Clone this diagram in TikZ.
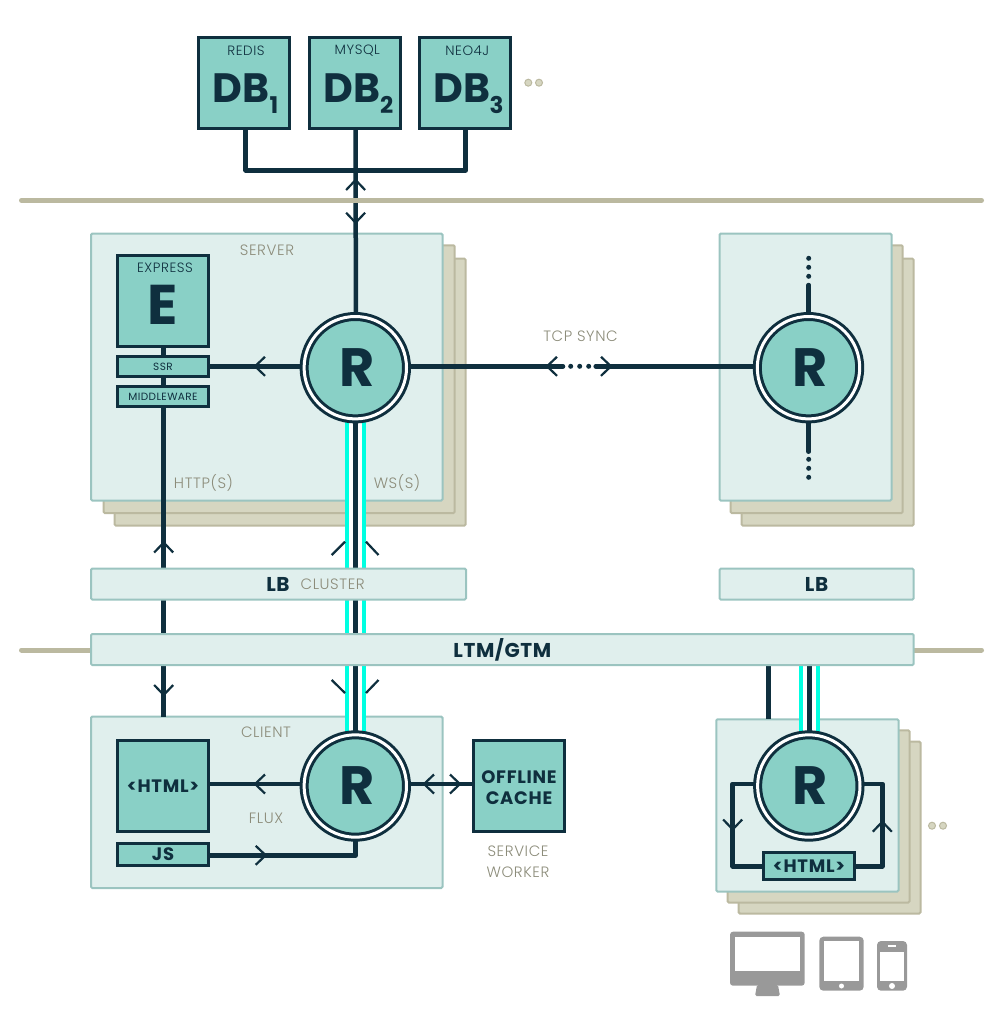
\documentclass[tikz,border=0pt]{standalone}
\usepackage{fontspec}
\setmainfont{Poppins}
\newfontfamily\lightf[LetterSpace=4]{Poppins Light}
\newfontfamily\spacedf[LetterSpace=4]{Poppins}
\usetikzlibrary{backgrounds,calc}
\definecolor{dk}{HTML}{0F2F3E}
\definecolor{teal1}{HTML}{89D0C6}
\definecolor{lite}{HTML}{E0EFED}
\definecolor{liteb}{HTML}{9BC4C0}
\definecolor{tan1}{HTML}{D6D6C1}
\definecolor{tanb}{HTML}{BBB9A0}
\definecolor{cy}{HTML}{00FFE1}
\definecolor{anno}{HTML}{8C8C7A}
\definecolor{dev}{HTML}{999999}
\pgfdeclarelayer{bg}
\pgfdeclarelayer{conn}
\pgfsetlayers{bg,conn,main}
\tikzset{
  tbox/.style={draw=dk,fill=teal1,line width=3pt,inner sep=0pt,outer sep=0pt,text=dk,align=center},
  panel/.style={draw=liteb,fill=lite,line width=2pt,rounded corners=1.2pt,inner sep=0pt,outer sep=0pt},
  backp/.style={draw=tanb,fill=tan1,line width=2pt,rounded corners=1.2pt,inner sep=0pt,outer sep=0pt},
  rnode/.style={circle,draw=dk,fill=teal1,line width=3pt,double=white,double distance=3pt,
     minimum size=102.4pt,inner sep=0pt,outer sep=4.5pt,text=dk,font=\fontsize{54}{54}\selectfont\bfseries},
  wire/.style={draw=dk,line width=4.5pt,line join=round},
  chev/.style={draw=dk,line width=2.2pt},
  tanline/.style={draw=tanb,line width=5pt,line cap=round},
  annot/.style={text=anno,inner sep=0pt,font=\fontsize{15}{15}\selectfont\lightf},
  dblab/.style={text=dk,inner sep=0pt,font=\fontsize{13.5}{13.5}\selectfont\lightf},
  dbbig/.style={text=dk,inner sep=0pt,font=\fontsize{41}{41}\selectfont\bfseries},
  dbsub/.style={text=dk,inner sep=0pt,font=\fontsize{23}{23}\selectfont\bfseries},
  smlab/.style={font=\fontsize{10.5}{10.5}\selectfont\spacedf},
  bdlab/.style={font=\fontsize{18}{21}\selectfont\bfseries\addfontfeature{LetterSpace=4}},
  biglab/.style={text=dk,inner sep=0pt,font=\fontsize{20}{20}\selectfont\bfseries\addfontfeature{LetterSpace=3}},
  dot/.style={circle,fill=tan1,draw=tanb,line width=1pt,inner sep=0pt,minimum size=7pt},
  dkdot/.style={fill=dk}
}
\newcommand\bx[7]{\node[#2,minimum width={(#5-#3)*1pt},minimum height={(#6-#4)*1pt}] (#1) at ({(#3+#5)/2},{(#4+#6)/2}) {#7};}
\newcommand\chevu[2]{\draw[chev] (#1-9.5,#2+10) -- (#1,#2) -- (#1+9.5,#2+10);}
\newcommand\chevd[2]{\draw[chev] (#1-9.5,#2-10) -- (#1,#2) -- (#1+9.5,#2-10);}
\newcommand\chevl[2]{\draw[chev] (#1+10,#2-9.5) -- (#1,#2) -- (#1+10,#2+9.5);}
\newcommand\chevr[2]{\draw[chev] (#1-10,#2-9.5) -- (#1,#2) -- (#1-10,#2+9.5);}
\newcommand\wsband[2]{%
  \draw[white,line width=17pt] (#1) -- (#2);
  \draw[cy,line width=4pt] ([xshift=-8.5pt]#1) -- ([xshift=-8.5pt]#2);
  \draw[cy,line width=4pt] ([xshift=8.5pt]#1) -- ([xshift=8.5pt]#2);
  \draw[wire] (#1) -- (#2);}
\begin{document}
\begin{tikzpicture}[x=1pt,y=-1pt]
\useasboundingbox (0,0) rectangle (1000,1012);
% ---------- panels
\begin{pgfonlayer}{bg}
\bx{s1c}{backp}{114.5}{258.7}{465.7}{525.5}{}
\bx{s1b}{backp}{103.5}{245.3}{454.7}{513}{}
\bx{s1}{panel}{91}{233.7}{442.5}{500.5}{}
\bx{s2c}{backp}{741.5}{258.7}{913.7}{525.5}{}
\bx{s2b}{backp}{730.5}{245.3}{902.7}{513}{}
\bx{s2}{panel}{719.5}{233.7}{891.5}{500.5}{}
\bx{c1}{panel}{91}{716.7}{442.5}{888}{}
\bx{c2c}{backp}{738.7}{741.7}{920.5}{913.5}{}
\bx{c2b}{backp}{727.7}{730.3}{909.5}{902.5}{}
\bx{c2}{panel}{716.3}{719.3}{898.5}{891.5}{}
\end{pgfonlayer}
% ---------- nodes
\draw[tanline] (21.5,200.3) -- (981.5,200.3);
\draw[tanline] (21.5,650) -- (981.5,650);
\bx{db1}{tbox}{198.5}{37.5}{289.5}{128.5}{}
\bx{db2}{tbox}{309.5}{37.5}{400.5}{128.5}{}
\bx{db3}{tbox}{419.5}{37.5}{510.5}{128.5}{}
\node[dblab] (l1) at (246,50.5) {REDIS};
\node[dblab] (l2) at (357.3,50.5) {MYSQL};
\node[dblab] (l3) at (467.3,50.5) {NEO4J};
\node[dbbig] (d1) at (241.2,88) {DB};
\node[dbbig] (d2) at (352.2,88) {DB};
\node[dbbig] (d3) at (462.2,88) {DB};
\node[dbsub] (n1) at (274,104.7) {1};
\node[dbsub] (n2) at (386.7,104.7) {2};
\node[dbsub] (n3) at (496.7,104.7) {3};
\node[dot] (t1) at (528.3,82.7) {};
\node[dot] (t2) at (539,82.7) {};
\node[dot] (t3) at (932,825.7) {};
\node[dot] (t4) at (943,825.7) {};
\bx{e}{tbox}{117.5}{255.5}{208.5}{346.5}{}
\node[dblab] (el) at (165,267.3) {EXPRESS};
\node[text=dk,inner sep=0pt,font=\fontsize{56}{56}\selectfont\bfseries] (eb) at (163,305) {E};
\bx{ssr}{tbox,smlab}{117.5}{356.8}{208.5}{376.2}{SSR}
\bx{mw}{tbox,smlab}{117.5}{386.8}{208.5}{406.2}{MIDDLEWARE}
\node[rnode] (r1) at (355.3,367.7) {\kern3pt R};
\node[rnode] (r2) at (808.5,367.7) {\kern3pt R};
\node[rnode] (r3) at (355.3,786) {\kern3pt R};
\node[rnode] (r4) at (808.8,786) {\kern3pt R};
\bx{lb}{panel}{91}{568.7}{466}{599.5}{}
\node[biglab] (lbt) at (278,584) {LB};
\node[annot] (cl) at (332.7,584) {CLUSTER};
\bx{lb2}{panel,biglab}{719.5}{568.7}{913.7}{599.5}{LB}
\bx{ltm}{panel,biglab}{91}{634}{913.7}{665}{LTM/GTM}
\bx{html}{tbox,bdlab}{117.5}{740.8}{208.5}{831.5}{<HTML>}
\bx{js}{tbox,bdlab}{117.5}{843.2}{208.5}{865.8}{JS}
\bx{cache}{tbox}{473.8}{740.8}{564.2}{831.5}{}
\node[bdlab,text=dk,align=center,inner sep=0pt] (cachet) at (519,787.5) {OFFLINE\\CACHE};
\bx{h4}{tbox,bdlab}{763.8}{852.5}{854.2}{879.8}{<HTML>}
% ---------- annotations
\node[annot] (a1) at (267,250) {SERVER};
\node[annot] (a2) at (203.5,483) {HTTP(S)};
\node[annot] (a3) at (397,483) {WS(S)};
\node[annot] (a4) at (580.5,336) {TCP SYNC};
\node[annot] (a5) at (266,732) {CLIENT};
\node[annot] (a6) at (266,818) {FLUX};
\node[annot] (a7) at (518,851.3) {SERVICE};
\node[annot] (a8) at (518,872) {WORKER};
% ---------- connectors
\coordinate (bus) at (355.7,170.3);
\coordinate (httpend) at (163.7,716.7);
\coordinate (g1) at (563,366.3);
\coordinate (g2) at (595.7,366.3);
\coordinate (r2t) at (808.7,285);
\coordinate (r2b) at (808.7,451.7);
\coordinate (y784) at (0,784);
\coordinate (jsy) at (355.7,855.3);
\coordinate (w4) at (809.7,650);
\coordinate (v4a) at (768.3,660);
\coordinate (lw) at (732.7,866.3);
\coordinate (rw) at (882.3,866.3);
\begin{pgfonlayer}{conn}
\draw[wire] ([xshift=1.7pt]db1.south) |- (bus) -| ([xshift=.7pt]db3.south);
\draw[wire] ([xshift=.7pt]db2.south) -- ([xshift=.5pt]r1.center);
\chevu{355.6}{180} \chevd{355.6}{222.7}
\draw[wire] ([xshift=.7pt]e.south) -- (httpend);
\chevu{163.7}{542.5} \chevd{163.7}{695}
\draw[wire] (ssr.east) -- (ssr.east -| r1.center);
\chevl{255}{366.3}
\draw[wire,line cap=round] (g1 -| r1.center) -- (g1);
\draw[wire,line cap=round] (g2) -- (g2 -| r2.center);
\foreach \xx in {570.7,579.7,588.7} \fill[dkdot] (\xx,366.3) circle (2.5pt);
\chevl{547}{366.3} \chevr{611}{366.3}
\draw[wire,line cap=round] (r2t) -- (r2t |- r2.center);
\draw[wire,line cap=round] (r2b) -- (r2b |- r2.center);
\foreach \yy in {258.3,267.3,276.3,459.3,468.3,477.3} \fill[dkdot] (808.7,\yy) circle (2.5pt);
\wsband{r1.center}{r3.center}
\draw[chev] (331.7,555) -- (345,541.7);
\draw[chev] (366,541.7) -- (378.5,555);
\draw[chev] (331.7,680) -- (345,693);
\draw[chev] (366,693) -- (378.5,680);
\draw[wire] (html.east |- y784) -- (r3.center |- y784);
\chevl{255}{784}
\draw[wire] (js.east |- jsy) -- (jsy) -- (jsy |- r3.center);
\chevr{265.7}{855.3}
\draw[wire] (r3.center |- y784) -- (cache.west |- y784);
\chevl{424}{784} \chevr{460}{784}
\draw[wire] (v4a) -- (v4a |- c2.north);
\wsband{w4}{w4 |- r4.center}
\draw[wire] (r4.center |- y784) -| (lw) -- (h4.west |- lw);
\draw[wire] (h4.east |- rw) -- (rw) |- (r4.center |- y784);
\chevd{732.7}{829.5} \chevu{882.3}{821.7}
\end{pgfonlayer}
% ---------- devices
\fill[dev,rounded corners=3pt] (730,931.7) rectangle (804.7,985.7);
\fill[white] (735,936.7) rectangle (800,971);
\fill[dev,rounded corners=1.5pt] (757,985) -- (778,985) -- (780,996) -- (755,996) -- cycle;
\fill[dev,rounded corners=4pt] (819.3,936.7) rectangle (863.7,990.7);
\fill[white] (824,941) rectangle (859,981);
\fill[white] (841.5,986) circle (2.5pt);
\fill[dev,rounded corners=4pt] (877,941) rectangle (907,990.7);
\fill[white] (880.3,951.7) rectangle (904,981);
\fill[white] (888,945) rectangle (896,946.5);
\fill[white] (892,986) circle (3pt);
\end{tikzpicture}
\end{document}
